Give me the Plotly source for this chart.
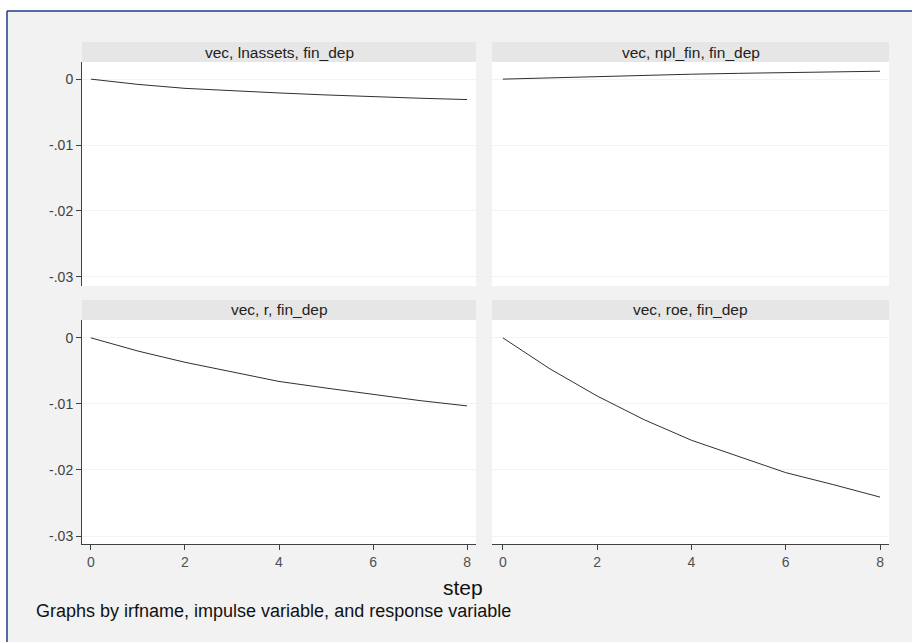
import plotly.graph_objects as go
from plotly.subplots import make_subplots

step = [0, 1, 2, 3, 4, 5, 6, 7, 8]
lnassets = [0, -0.0008, -0.0014, -0.0018, -0.0021, -0.0024, -0.0027, -0.0029, -0.0031]
npl_fin = [0, 0.0002, 0.00045, 0.0006, 0.00075, 0.00088, 0.0010, 0.0011, 0.0012]
r_resp = [0, -0.0020, -0.0037, -0.0052, -0.0066, -0.0076, -0.0086, -0.0095, -0.0103]
roe = [0, -0.0047, -0.0088, -0.0124, -0.0155, -0.0180, -0.0204, -0.0222, -0.0241]

titles = ["vec, lnassets, fin_dep", "vec, npl_fin, fin_dep", "vec, r, fin_dep", "vec, roe, fin_dep"]
series = [lnassets, npl_fin, r_resp, roe]
ytickvals = [0, -0.01, -0.02, -0.03]
yticktext = ["0", "-.01", "-.02", "-.03"]
xtickvals = [0, 2, 4, 6, 8]

W, H = 912, 642
def px(x): return x / W
def py(y): return 1 - y / H

fig = make_subplots(rows=2, cols=2)
pos = [(1, 1), (1, 2), (2, 1), (2, 2)]
for (rr, cc), s in zip(pos, series):
    fig.add_trace(go.Scatter(x=step, y=s, mode="lines",
                             line=dict(color="#303030", width=1),
                             showlegend=False, hoverinfo="skip"), row=rr, col=cc)

xdom = {1: [px(82), px(476)], 2: [px(492), px(889)]}
ydom = {1: [py(286), py(62)], 2: [py(544), py(320)]}
xrng = {1: [-0.19, 8.19], 2: [-0.23, 8.19]}
yrng = {1: [-0.0314, 0.0026], 2: [-0.0312, 0.0027]}

font_fam = "Liberation Sans, Arial, sans-serif"
layout = {}
for i, (rr, cc) in enumerate(pos, start=1):
    sfx = "" if i == 1 else str(i)
    bottom = rr == 2
    left = cc == 1
    layout["xaxis" + sfx] = dict(
        domain=xdom[cc], range=xrng[cc], showgrid=False, zeroline=False,
        showline=bottom, linecolor="#404040", linewidth=1,
        ticks="outside" if bottom else "", ticklen=5, tickcolor="#404040",
        tickvals=xtickvals, showticklabels=bottom,
        tickfont=dict(size=14, color="#505050", family=font_fam))
    layout["yaxis" + sfx] = dict(
        domain=ydom[rr], range=yrng[rr], showgrid=True, gridcolor="#f3f3f3",
        gridwidth=1, zeroline=False,
        showline=left, linecolor="#404040", linewidth=1,
        ticks="outside" if left else "", ticklen=5, tickcolor="#404040",
        tickvals=ytickvals, ticktext=yticktext, showticklabels=left,
        tickfont=dict(size=14, color="#404040", family=font_fam))
fig.update_layout(**layout)

shapes = [
    dict(type="rect", xref="paper", yref="paper", x0=px(7), x1=1, y0=0, y1=py(11),
         fillcolor="#f2f2f2", line=dict(width=0), layer="below"),
    dict(type="line", xref="paper", yref="paper", x0=px(7), x1=1, y0=py(11), y1=py(11),
         line=dict(color="#1f3c88", width=1.5)),
    dict(type="line", xref="paper", yref="paper", x0=px(7), x1=px(7), y0=0, y1=py(11),
         line=dict(color="#1f3c88", width=1.5)),
]
annotations = []
strip_y = {1: (42, 62), 2: (300, 320)}
for i, (rr, cc) in enumerate(pos):
    y0, y1 = strip_y[rr]
    shapes.append(dict(type="rect", xref="paper", yref="paper",
                       x0=xdom[cc][0], x1=xdom[cc][1], y0=ydom[rr][0], y1=ydom[rr][1],
                       fillcolor="white", line=dict(width=0), layer="below"))
    shapes.append(dict(type="rect", xref="paper", yref="paper",
                       x0=xdom[cc][0], x1=xdom[cc][1], y0=py(y1), y1=py(y0),
                       fillcolor="#e6e6e6", line=dict(width=0), layer="below"))
    annotations.append(dict(text=titles[i], xref="paper", yref="paper",
                            x=(xdom[cc][0] + xdom[cc][1]) / 2, y=py((y0 + y1) / 2),
                            xanchor="center", yanchor="middle", showarrow=False,
                            font=dict(size=15.5, color="#222222", family=font_fam)))
annotations.append(dict(text="step", xref="paper", yref="paper", x=px(463), y=py(587),
                        xanchor="center", yanchor="middle", showarrow=False,
                        font=dict(size=21, color="#111111", family=font_fam)))
annotations.append(dict(text="Graphs by irfname, impulse variable, and response variable",
                        xref="paper", yref="paper", x=px(34), y=py(611),
                        xanchor="left", yanchor="middle", showarrow=False,
                        font=dict(size=18, color="#111111", family=font_fam)))

fig.update_layout(width=W, height=H, margin=dict(l=0, r=0, t=0, b=0),
                  paper_bgcolor="white", plot_bgcolor="white",
                  shapes=shapes, annotations=annotations)
fig.write_html("out.html", config={"displayModeBar": False},
               post_script="document.body.style.margin='0';document.body.style.overflow='hidden';")
